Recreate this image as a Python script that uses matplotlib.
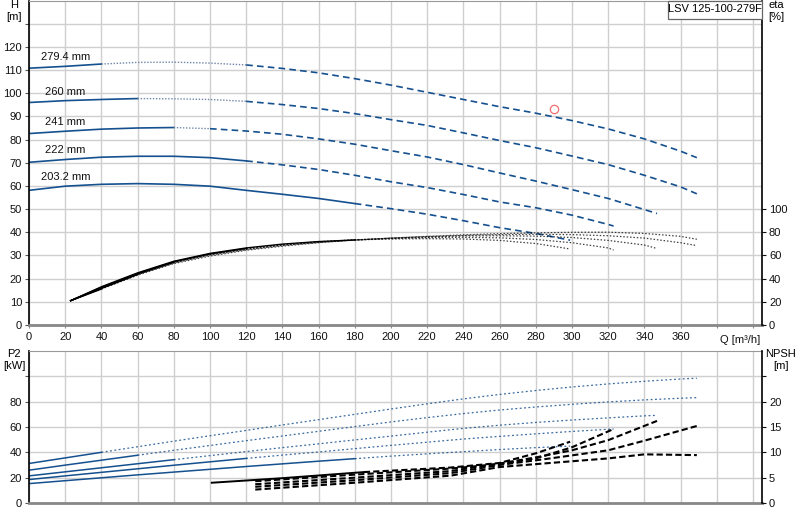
import numpy as np
import matplotlib.pyplot as plt
from matplotlib.patches import Rectangle

BLUE = "#15508f"
BLUE_LIGHT = "#6f86a8"

diam_labels = ["279.4 mm", "260 mm", "241 mm", "222 mm", "203.2 mm"]

# flow points for each impeller (m3/h)
q_279 = [0, 20, 40, 60, 80, 100, 120, 140, 160, 180, 200, 220, 240, 260, 280, 300, 320, 340, 360, 369]
q_260 = [0, 20, 40, 60, 80, 100, 120, 140, 160, 180, 200, 220, 240, 260, 280, 300, 320, 340, 360, 369]
q_241 = [0, 20, 40, 60, 80, 100, 120, 140, 160, 180, 200, 220, 240, 260, 280, 300, 320, 340, 347]
q_222 = [0, 20, 40, 60, 80, 100, 120, 140, 160, 180, 200, 220, 240, 260, 280, 300, 320, 323]
q_203 = [0, 20, 40, 60, 80, 100, 120, 140, 160, 180, 200, 220, 240, 260, 280, 299]

# head H [m]
h_279 = [110.8, 111.6, 112.6, 113.3, 113.4, 113.0, 112.2, 110.7, 108.8, 106.3, 103.5, 100.4, 97.3, 94.2, 91.4, 88.2, 84.6, 80.3, 75.0, 72.2]
h_260 = [96.0, 96.8, 97.3, 97.7, 97.6, 97.3, 96.5, 95.1, 93.4, 91.2, 88.6, 86.1, 82.9, 79.6, 76.5, 72.9, 69.2, 64.6, 59.6, 56.6]
h_241 = [82.6, 83.6, 84.5, 85.0, 85.2, 84.7, 83.7, 82.3, 80.3, 78.0, 75.2, 72.5, 69.2, 65.6, 62.1, 58.4, 54.6, 49.8, 48.1]
h_222 = [70.2, 71.4, 72.4, 72.8, 72.8, 72.2, 70.8, 69.1, 67.1, 64.6, 61.8, 59.3, 56.3, 53.1, 50.6, 47.4, 43.4, 42.7]
h_203 = [58.1, 59.9, 60.7, 61.0, 60.7, 59.9, 58.1, 56.4, 54.6, 52.4, 50.2, 47.8, 45.0, 42.0, 39.5, 36.6]

# shaft power P2 [kW]
p_279 = [31.2, 35.6, 40.0, 44.4, 48.8, 53.1, 57.3, 61.6, 65.8, 70.0, 74.2, 78.3, 82.2, 85.7, 88.8, 91.6, 94.0, 96.1, 97.9, 98.5]
p_260 = [25.9, 29.9, 33.8, 37.7, 41.6, 45.4, 49.2, 52.9, 56.6, 60.3, 64.0, 67.4, 70.6, 73.4, 75.8, 77.9, 79.8, 81.4, 82.7, 83.2]
p_241 = [21.4, 24.6, 27.8, 31.0, 34.2, 37.4, 40.6, 43.7, 46.7, 49.8, 52.8, 55.9, 58.9, 61.4, 63.6, 65.5, 67.2, 68.8, 69.2]
p_222 = [18.5, 21.4, 24.2, 27.0, 29.8, 32.5, 35.2, 37.8, 40.3, 42.9, 45.5, 48.0, 50.5, 52.6, 54.6, 56.5, 58.2, 58.4]
p_203 = [15.3, 17.6, 19.9, 22.2, 24.4, 26.6, 28.8, 30.9, 33.0, 35.0, 37.0, 38.8, 40.5, 42.2, 43.7, 44.9]

# efficiency eta [%]
qe_279 = [23, 40, 60, 80, 100, 120, 140, 160, 180, 200, 220, 240, 260, 280, 300, 320, 340, 360, 369]
qe_260 = [23, 40, 60, 80, 100, 120, 140, 160, 180, 200, 220, 240, 260, 280, 300, 320, 340, 360, 369]
qe_241 = [23, 40, 60, 80, 100, 120, 140, 160, 180, 200, 220, 240, 260, 280, 300, 320, 340, 347]
qe_222 = [23, 40, 60, 80, 100, 120, 140, 160, 180, 200, 220, 240, 260, 280, 300, 320, 323]
qe_203 = [23, 40, 60, 80, 100, 120, 140, 160, 180, 200, 220, 240, 260, 280, 299]
eta_279 = [21, 31, 43, 53, 59.5, 64.5, 68, 71, 73.3, 75, 76.5, 77.8, 78.8, 79.5, 80, 80.1, 79, 76.5, 74]
eta_260 = [21, 31.5, 43.5, 53.5, 60.3, 65, 68.6, 71.3, 73.3, 75, 76.3, 77.3, 78, 78.3, 78, 77, 75, 71, 68.5]
eta_241 = [21, 32, 44, 54, 60.8, 65.5, 69, 71.5, 73.4, 74.9, 76, 76.8, 77, 76.7, 75.5, 73, 69, 66]
eta_222 = [21, 32.5, 44.5, 54.5, 61.3, 66, 69.4, 71.8, 73.5, 74.6, 75.4, 75.6, 75.2, 73.8, 71, 66.5, 64.7]
eta_203 = [21, 33, 45, 55, 61.8, 66.5, 69.8, 72, 73.4, 74.2, 74.5, 74.2, 73, 70.3, 65.6]

# NPSH [m]
qn_279 = [125, 180, 233, 260, 288, 320, 340, 369]
qn_260 = [125, 180, 233, 260, 288, 320, 340, 369]
qn_241 = [125, 180, 233, 260, 280, 300, 320, 347]
qn_222 = [125, 180, 233, 260, 280, 300, 323]
qn_203 = [101, 140, 185, 233, 260, 280, 299]
n_279 = [2.65, 4.0, 5.4, 7.1, 7.9, 8.8, 9.6, 9.45]
n_260 = [3.2, 4.5, 5.9, 7.5, 8.8, 10.4, 12.3, 15.2]
n_241 = [3.7, 5.0, 6.3, 7.8, 9.0, 10.4, 12.4, 16.2]
n_222 = [4.3, 5.6, 6.8, 7.7, 8.8, 11.0, 14.6]
n_203 = [4.0, 4.9, 6.1, 7.0, 7.9, 9.8, 12.1]

duty_q = [290]
duty_h = [93]

q_all = [q_279, q_260, q_241, q_222, q_203]
h_all = [h_279, h_260, h_241, h_222, h_203]
p_all = [p_279, p_260, p_241, p_222, p_203]
qe_all = [qe_279, qe_260, qe_241, qe_222, qe_203]
eta_all = [eta_279, eta_260, eta_241, eta_222, eta_203]
qn_all = [qn_279, qn_260, qn_241, qn_222, qn_203]
n_all = [n_279, n_260, n_241, n_222, n_203]

# where the solid / dotted parts of each curve end
solid_end = [40, 60, 80, 120, 180]
dotted_end = [120, 120, 100, 120, 180]
npsh_solid = [None, None, None, None, 185]

plt.rcParams['font.family'] = ['Liberation Sans', 'DejaVu Sans']
plt.rcParams['font.size'] = 8

fig = plt.figure(figsize=(8, 5.2), dpi=100)
ax_h = fig.add_axes([0.03625, 0.375, 0.91625, 0.624])
ax_eta = ax_h.twinx()
ax_p = fig.add_axes([0.03625, 0.0327, 0.91625, 0.2923])
ax_npsh = ax_p.twinx()


def draw_parts(ax, q, v, s_end, d_end, color, solid_kw, dot_kw, dash_kw):
    q = np.array(q)
    v = np.array(v)
    m = q <= s_end
    if m.sum() > 1:
        ax.plot(q[m], v[m], color=color, **solid_kw)
    m = (q >= s_end) & (q <= d_end)
    if m.sum() > 1:
        ax.plot(q[m], v[m], **dot_kw)
    m = q >= d_end
    if m.sum() > 1:
        ax.plot(q[m], v[m], color=color, **dash_kw)


for i in range(5):
    draw_parts(ax_h, q_all[i], h_all[i], solid_end[i], dotted_end[i], BLUE,
               dict(lw=1.2, ls='-'),
               dict(color=BLUE_LIGHT, lw=1.0, ls=(0, (1, 1.2))),
               dict(lw=1.2, ls=(0, (4, 2.5))))
    draw_parts(ax_eta, qe_all[i], eta_all[i], solid_end[i], solid_end[i], 'black',
               dict(lw=1.0, ls='-'),
               dict(color='#555555', lw=0.9, ls=(0, (1.2, 1.2))),
               dict(lw=0.9, ls=(0, (1.2, 1.5)), alpha=0.75))
    draw_parts(ax_p, q_all[i], p_all[i], solid_end[i], solid_end[i], BLUE,
               dict(lw=1.1, ls='-'),
               dict(color=BLUE_LIGHT, lw=0.9, ls=(0, (1.5, 1.5))),
               dict(lw=0.9, ls=(0, (1.5, 2.0)), alpha=0.85))
    if npsh_solid[i] is not None:
        draw_parts(ax_npsh, qn_all[i], n_all[i], npsh_solid[i], npsh_solid[i], 'black',
                   dict(lw=1.4, ls='-'), dict(color='black'),
                   dict(lw=1.5, ls=(0, (3, 1.5))))
    else:
        ax_npsh.plot(qn_all[i], n_all[i], color='black', lw=1.5, ls=(0, (3, 1.5)))

ax_h.plot(duty_q, duty_h, 'o', mfc='none', mec='#f07070', ms=6, mew=0.9)

# curve labels
label_pos = [(20.5, 115.7), (20, 100.7), (20, 87.5), (20, 75.5), (20.5, 63.8)]
for txt, (lx, ly) in zip(diam_labels, label_pos):
    ax_h.text(lx, ly, txt, ha='center', va='center', color='#111111')

# axes, ticks, grid
xt = list(range(0, 401, 20))
for ax in (ax_h, ax_p):
    ax.set_xlim(0, 405)
    ax.set_xticks(xt)
    ax.grid(True, color='#cfcfcf', lw=1.0)
    ax.set_axisbelow(True)
    ax.spines['left'].set_color('black')
    ax.spines['left'].set_linewidth(1.2)
    ax.spines['top'].set_color('#999999')
    ax.spines['top'].set_linewidth(0.8)
    ax.spines['bottom'].set_color('#888888')
    ax.spines['bottom'].set_linewidth(2.0)
    ax.spines['right'].set_visible(False)
    ax.tick_params(axis='y', length=3, width=0.8, color='#555555', pad=2, labelcolor='#111111')

for ax in (ax_eta, ax_npsh):
    ax.set_xlim(0, 405)
    for s in ('left', 'top', 'bottom'):
        ax.spines[s].set_visible(False)
    ax.spines['right'].set_color('black')
    ax.spines['right'].set_linewidth(1.2)
    ax.tick_params(axis='y', length=3, width=0.8, color='#111111', pad=2, labelcolor='#111111')

ax_h.set_xticklabels([str(v) if v <= 360 else '' for v in xt])
ax_h.tick_params(axis='x', length=2, pad=3, labelcolor='#111111', color='#888888')
ax_p.set_xticklabels([])
ax_p.tick_params(axis='x', length=0)

ax_h.set_ylim(0, 140)
ht = list(range(0, 131, 10))
ax_h.set_yticks(ht)
ax_h.set_yticklabels([str(v) if v <= 120 else '' for v in ht])

ax_eta.set_ylim(0, 280)
ax_eta.set_yticks(list(range(0, 101, 20)))

ax_p.set_ylim(0, 120)
pt = list(range(0, 101, 20))
ax_p.set_yticks(pt)
ax_p.set_yticklabels([str(v) if v <= 80 else '' for v in pt])

ax_npsh.set_ylim(0, 30)
nt = list(range(0, 26, 5))
ax_npsh.set_yticks(nt)
ax_npsh.set_yticklabels([str(v) if v <= 20 else '' for v in nt])

ax_h.text(393, -0.03, "Q [m\u00b3/h]", transform=ax_h.get_xaxis_transform(),
          ha='center', va='top', color='#111111')

# title box in the top right corner
fig.patches.append(Rectangle((668 / 800, 1 - 19 / 520), 94 / 800, 18.5 / 520,
                             transform=fig.transFigure, fc='white', ec='#666666',
                             lw=0.9, zorder=5))
fig.text(715 / 800, 1 - 9.5 / 520, "LSV 125-100-279F", ha='center', va='center',
         fontsize=8, zorder=6)

fig.text(14 / 800, 1 - 11 / 520, "H\n[m]", ha='center', va='center', linespacing=1.35)
fig.text(776 / 800, 1 - 11 / 520, "eta\n[%]", ha='center', va='center', linespacing=1.35)
fig.text(14 / 800, 1 - 360 / 520, "P2\n[kW]", ha='center', va='center', linespacing=1.35)
fig.text(781 / 800, 1 - 360 / 520, "NPSH\n[m]", ha='center', va='center', linespacing=1.35)

fig.savefig("out.png", dpi=100)
